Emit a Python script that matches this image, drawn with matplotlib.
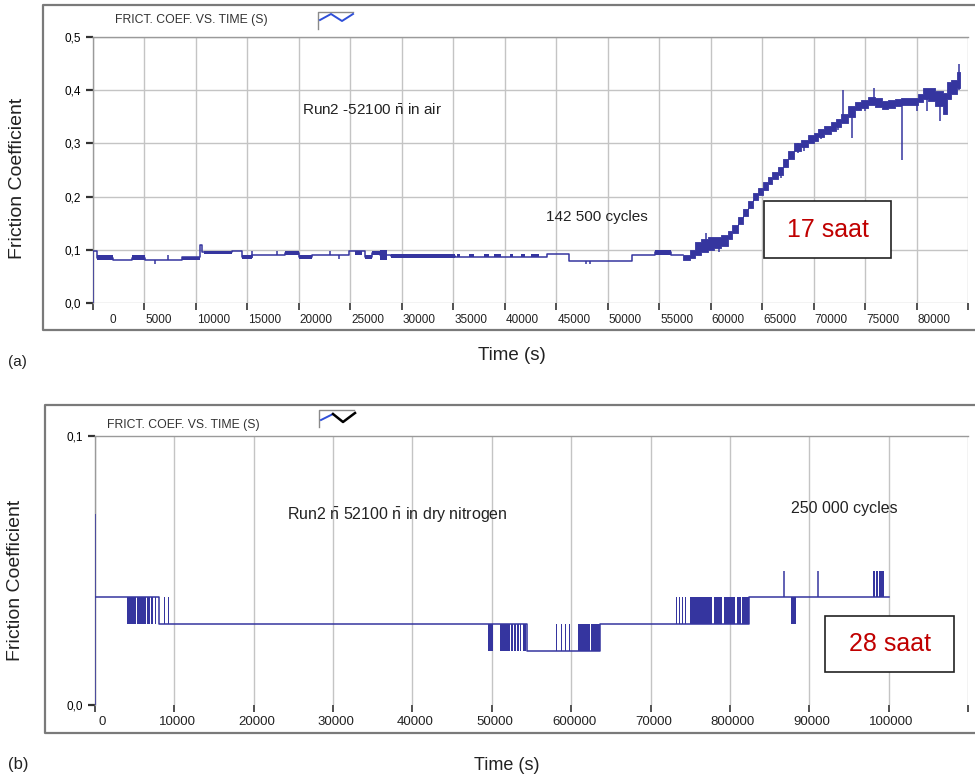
import matplotlib
matplotlib.use("Agg")
import matplotlib.pyplot as plt
from matplotlib.lines import Line2D
from matplotlib.patches import Rectangle

plt.rcParams['font.family'] = ['Liberation Sans', 'DejaVu Sans']
plt.rcParams['mathtext.fontset'] = 'custom'
plt.rcParams['mathtext.rm'] = 'Liberation Sans'

# ---- run (a): 52100 in air --------------------------------------------------
a_ticks = [0, 5000, 10000, 15000, 20000, 25000, 30000, 35000, 40000,
           45000, 50000, 55000, 60000, 65000, 70000, 75000, 80000, 85000]
a_tick_labels = ['0', '5000', '10000', '15000', '20000', '25000', '30000',
                 '35000', '40000', '45000', '50000', '55000', '60000',
                 '65000', '70000', '75000', '80000', '']
a_yticks = [0.0, 0.1, 0.2, 0.3, 0.4, 0.5]
a_ytick_labels = ['0,0', '0,1', '0,2', '0,3', '0,4', '0,5']

# steady part of the trace (step levels)
a_base_t = [0, 32, 357, 1978, 3762, 5060, 8627, 10411, 10600, 13492, 14465,
            15438, 18681, 19979, 21276, 24844, 26466, 27114, 27925, 28900,
            35200, 44140, 46250, 52400, 54600, 56140, 57300]
a_base_v = [0.0, 0.098, 0.085, 0.081, 0.085, 0.081, 0.086, 0.109, 0.096,
            0.098, 0.086, 0.090, 0.094, 0.086, 0.090, 0.098, 0.086, 0.094,
            0.090, 0.088, 0.086, 0.093, 0.0795, 0.090, 0.095, 0.090, 0.090]

# flickering blocks: start, end, low, high
a_band_t0 = [357, 3762, 8627, 10735, 14465, 18681, 19979, 25493, 26466,
             27114, 27925, 28900, 35400, 36500, 38000, 39000, 40500, 41600,
             42500, 54600]
a_band_t1 = [1978, 5060, 10411, 13492, 15438, 19979, 21276, 26141, 27114,
             28412, 28574, 35200, 35700, 37000, 38500, 39600, 40800, 42000,
             43300, 56100]
a_band_lo = [0.081, 0.081, 0.081, 0.092, 0.082, 0.090, 0.082, 0.090, 0.082,
             0.090, 0.080, 0.085, 0.086, 0.086, 0.086, 0.086, 0.086, 0.086,
             0.086, 0.090]
a_band_hi = [0.090, 0.090, 0.087, 0.098, 0.090, 0.098, 0.090, 0.098, 0.090,
             0.098, 0.100, 0.092, 0.092, 0.092, 0.092, 0.092, 0.092, 0.092,
             0.092, 0.100]

# rising part: envelope of the noisy signal
a_rise_t = [57300, 57950, 58500, 59060, 59700, 60360, 61000, 61660, 62100,
            62630, 63100, 63600, 64100, 64570, 65050, 65550, 66000, 66520,
            67000, 67500, 68140, 68800, 69440, 70000, 70410, 71000, 71700,
            72200, 72680, 73330, 73980, 74630, 75300, 75920, 76600, 77220,
            77900, 78520, 79300, 80140, 80600, 81110, 81800, 82570, 83000,
            83380, 83900, 84260]
a_rise_lo = [0.080, 0.085, 0.090, 0.095, 0.100, 0.103, 0.108, 0.120, 0.132,
             0.148, 0.163, 0.178, 0.193, 0.203, 0.213, 0.223, 0.233, 0.240,
             0.255, 0.270, 0.285, 0.293, 0.300, 0.305, 0.312, 0.317, 0.323,
             0.330, 0.338, 0.350, 0.362, 0.367, 0.372, 0.368, 0.365, 0.367,
             0.370, 0.372, 0.372, 0.377, 0.383, 0.380, 0.370, 0.355, 0.383,
             0.393, 0.405, 0.405]
a_rise_hi = [0.090, 0.100, 0.115, 0.120, 0.125, 0.125, 0.128, 0.135, 0.146,
             0.162, 0.177, 0.192, 0.207, 0.217, 0.227, 0.237, 0.247, 0.256,
             0.270, 0.285, 0.300, 0.307, 0.315, 0.320, 0.327, 0.332, 0.340,
             0.345, 0.355, 0.370, 0.377, 0.382, 0.387, 0.386, 0.380, 0.381,
             0.383, 0.386, 0.385, 0.392, 0.405, 0.405, 0.398, 0.395, 0.415,
             0.420, 0.435, 0.435]

# isolated spikes: time, from, to
a_spike_t = [6033, 7330, 15438, 17870, 23060, 23871, 47900, 48300, 59500,
             60800, 66800, 68500, 69100, 70700, 72400, 72900, 73700, 75000,
             75900, 78580, 80000, 81000, 82300, 84150]
a_spike_from = [0.081, 0.081, 0.085, 0.090, 0.090, 0.090, 0.0795, 0.0795,
                0.110, 0.110, 0.250, 0.300, 0.305, 0.320, 0.340, 0.350,
                0.360, 0.375, 0.385, 0.375, 0.380, 0.390, 0.370, 0.400]
a_spike_to = [0.073, 0.090, 0.098, 0.098, 0.098, 0.083, 0.074, 0.074,
              0.132, 0.095, 0.235, 0.282, 0.285, 0.308, 0.325, 0.400,
              0.310, 0.360, 0.405, 0.268, 0.360, 0.360, 0.342, 0.450]

# ---- run (b): 52100 in dry nitrogen -----------------------------------------
b_ticks = [0, 10000, 20000, 30000, 40000, 50000, 60000, 70000, 80000,
           90000, 100000, 110000]
b_tick_labels = ['0', '10000', '20000', '30000', '40000', '50000', '600000',
                 '70000', '800000', '90000', '100000', '']
b_yticks = [0.0, 0.1]
b_ytick_labels = ['0,0', '0,1']

b_base_t = [60, 3970, 8020, 49480, 54390, 58170, 63580, 73240, 82460, 100090]
b_base_v = [0.04, 0.04, 0.03, 0.03, 0.02, 0.02, 0.03, 0.03, 0.04, 0.04]

b_band_t0 = [3970, 5350, 6550, 7100, 7500, 8650, 9200,
             49520, 50990, 52460, 52750, 53210, 53550, 53930,
             58120, 58700, 59250, 59750, 60850, 62550,
             73180, 73600, 74020, 74360, 75000, 77950, 79200, 80880, 81500,
             87710, 98080, 98450, 98800]
b_band_t1 = [5200, 6450, 6900, 7250, 7650, 8800, 9350,
             50150, 52250, 52620, 53000, 53420, 53650, 54350,
             58220, 58800, 59350, 59850, 62400, 63580,
             73280, 73700, 74120, 74460, 77750, 79000, 80700, 81350, 82460,
             88340, 98250, 98650, 99460]
b_band_lo = [0.03] * 7 + [0.02] * 7 + [0.02] * 6 + [0.03] * 9 + [0.03] + [0.04] * 3
b_band_hi = [0.04] * 7 + [0.03] * 7 + [0.03] * 6 + [0.04] * 9 + [0.04] + [0.05] * 3

b_spike_t = [60, 86780, 91150]
b_spike_from = [0.0, 0.04, 0.04]
b_spike_to = [0.071, 0.05, 0.05]

TRACE = '#35359f'
GRID = '#c4c4c4'
FRAME = '#7a7a7a'
NBAR = r'$\mathrm{\bar{n}}$'

W, H = 975, 778
fig = plt.figure(figsize=(W / 100, H / 100), dpi=100)


def fx(px):
    return px / W


def fy(py):
    return 1 - py / H


def draw_trace(ax, base_t, base_v, t0, t1, lo, hi, sp_t, sp_from, sp_to):
    ax.step(base_t, base_v, where='post', color=TRACE, lw=1.1, zorder=3)
    widths = [b - a for a, b in zip(t0, t1)]
    heights = [h - l for l, h in zip(lo, hi)]
    ax.bar(t0, heights, width=widths, bottom=lo, align='edge',
           color=TRACE, linewidth=0, zorder=3)
    ax.vlines(sp_t, sp_from, sp_to, color=TRACE, lw=1.1, zorder=3)


def style_axes(ax, xticks, yticks, ylabels, ygrid):
    for side in ('right', 'bottom'):
        ax.spines[side].set_visible(False)
    for side in ('top', 'left'):
        ax.spines[side].set_color('#9a9a9a')
        ax.spines[side].set_linewidth(1.0)
    ax.set_xticks(xticks)
    ax.set_xticklabels([])
    ax.set_yticks(yticks)
    ax.set_yticklabels(ylabels)
    ax.tick_params(axis='y', length=5, width=1.6, color='#333333',
                   labelsize=8.5, pad=3.5)
    ax.tick_params(axis='x', length=5, width=1.2, color='#333333')
    ax.grid(axis='x', color=GRID, lw=1.0, zorder=0)
    if ygrid:
        ax.grid(axis='y', color=GRID, lw=1.0, zorder=0)
    ax.set_axisbelow(True)


def frame(x0, y0, x1, y1):
    fig.add_artist(Line2D([fx(x1), fx(x0), fx(x0), fx(x1)],
                          [fy(y0), fy(y0), fy(y1), fy(y1)],
                          transform=fig.transFigure, color=FRAME, lw=1.6))


def legend_icon(x0, y0, pts_blue, pts_black):
    fig.add_artist(Line2D([fx(x0), fx(x0), fx(x0 + 35)],
                          [fy(y0 + 17), fy(y0), fy(y0)],
                          transform=fig.transFigure, color='#8a8a8a', lw=1.0))
    if pts_blue:
        xs, ys = zip(*pts_blue)
        fig.add_artist(Line2D([fx(v) for v in xs], [fy(v) for v in ys],
                              transform=fig.transFigure, color='#2f4fd8', lw=1.4))
    if pts_black:
        xs, ys = zip(*pts_black)
        fig.add_artist(Line2D([fx(v) for v in xs], [fy(v) for v in ys],
                              transform=fig.transFigure, color='black', lw=1.8))


# ---------------- panel (a) ----------------
axA = fig.add_axes([fx(93), fy(303), fx(968) - fx(93), fy(37) - fy(303)])
axA.set_xlim(0, 85000)
axA.set_ylim(0, 0.5)
style_axes(axA, a_ticks, a_yticks, a_ytick_labels, True)
draw_trace(axA, a_base_t, a_base_v, a_band_t0, a_band_t1, a_band_lo,
           a_band_hi, a_spike_t, a_spike_from, a_spike_to)
axA.fill_between(a_rise_t, a_rise_lo, a_rise_hi, step='post', color=TRACE,
                 linewidth=0.6, edgecolor=TRACE, zorder=3)

for t, lab in zip(a_ticks, a_tick_labels):
    axA.annotate(lab, xy=(t, 0), xycoords=('data', 'axes fraction'),
                 xytext=(17 if t == 0 else 1, -17), textcoords='offset pixels',
                 ha='left', va='center', fontsize=8.5, color='#222222')

axA.text(20300, 0.363, 'Run2 -52100 ' + NBAR + ' in air', fontsize=11,
         color='#222222', va='center')
axA.text(44000, 0.162, '142 500 cycles', fontsize=11, color='#222222',
         va='center')
axA.add_patch(Rectangle((65200, 0.0846), 77550 - 65200, 0.1917 - 0.0846,
                        facecolor='white', edgecolor='#222222', lw=1.2,
                        zorder=5))
axA.text(71375, 0.138, '17 saat', fontsize=18, color='#c00000',
         ha='center', va='center', zorder=6)

fig.text(fx(18), fy(178), 'Friction Coefficient', rotation=90, fontsize=14,
         ha='center', va='center', color='#222222')
fig.text(fx(512), fy(355), 'Time (s)', fontsize=13.5, ha='center',
         va='center', color='#222222')
fig.text(fx(8), fy(362), '(a)', fontsize=11, ha='left', va='center',
         color='#222222')
fig.text(fx(115), fy(20), 'FRICT. COEF. VS. TIME (S)', fontsize=8.8,
         ha='left', va='center', color='#333333')
frame(43, 5, 975, 330)
legend_icon(318, 12, [(320, 20), (331, 14), (342, 21), (353, 14)], None)

# ---------------- panel (b) ----------------
axB = fig.add_axes([fx(95), fy(705), fx(968) - fx(95), fy(436) - fy(705)])
axB.set_xlim(0, 110000)
axB.set_ylim(0, 0.1)
style_axes(axB, b_ticks, b_yticks, b_ytick_labels, False)
draw_trace(axB, b_base_t, b_base_v, b_band_t0, b_band_t1, b_band_lo,
           b_band_hi, b_spike_t, b_spike_from, b_spike_to)

narrow = ['Liberation Sans Narrow', 'Liberation Sans', 'DejaVu Sans']
for t, lab in zip(b_ticks, b_tick_labels):
    axB.annotate(lab, xy=(t, 0), xycoords=('data', 'axes fraction'),
                 xytext=(7 if t == 0 else 3, -17), textcoords='offset pixels',
                 ha='center', va='center', fontsize=9.5, color='#222222',
                 family=narrow)

axB.text(24170, 0.0706, 'Run2 ' + NBAR + ' 52100 ' + NBAR + ' in dry nitrogen',
         fontsize=11.5, color='#222222', va='center')
axB.text(87750, 0.0732, '250 000 cycles', fontsize=11.5, color='#222222',
         va='center')
axB.add_patch(Rectangle((92030, 0.0123), 108270 - 92030, 0.0331 - 0.0123,
                        facecolor='white', edgecolor='#222222', lw=1.2,
                        zorder=5))
axB.text(100150, 0.0225, '28 saat', fontsize=18, color='#c00000',
         ha='center', va='center', zorder=6)

fig.text(fx(16), fy(580), 'Friction Coefficient', rotation=90, fontsize=14,
         ha='center', va='center', color='#222222')
fig.text(fx(507), fy(765), 'Time (s)', fontsize=13, ha='center',
         va='center', color='#222222', family=narrow)
fig.text(fx(8), fy(765), '(b)', fontsize=12, ha='left', va='center',
         color='#222222', family=narrow)
fig.text(fx(107), fy(425), 'FRICT. COEF. VS. TIME (S)', fontsize=8.8,
         ha='left', va='center', color='#333333')
frame(45, 405, 975, 733)
legend_icon(319, 410, [(321, 420), (333, 414)], [(333, 414), (343, 422), (355, 413)])

fig.savefig('out.png', dpi=100)
